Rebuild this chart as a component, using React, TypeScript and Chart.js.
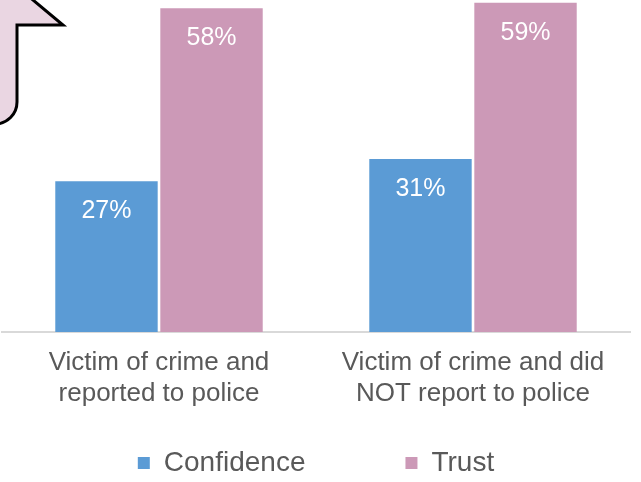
import React, { useEffect, useRef } from 'react';
import { Chart, registerables } from 'chart.js';

Chart.register(...registerables);

const categories: string[][] = [
  ['Victim of crime and', 'reported to police'],
  ['Victim of crime and did', 'NOT report to police'],
];
const seriesNames = ['Confidence', 'Trust'];
const confidenceValues = [27, 31];
const trustValues = [58, 59];
const seriesColors = ['#5B9BD5', '#CC99B7'];

const FONT = "'Liberation Sans', Arial, sans-serif";

const valueLabels = {
  id: 'valueLabels',
  afterDatasetsDraw(chart: any) {
    const ctx = chart.ctx;
    ctx.save();
    ctx.fillStyle = '#FFFFFF';
    ctx.font = `25px ${FONT}`;
    ctx.textAlign = 'center';
    ctx.textBaseline = 'middle';
    chart.data.datasets.forEach((ds: any, i: number) => {
      const meta = chart.getDatasetMeta(i);
      meta.data.forEach((el: any, j: number) => {
        ctx.fillText(`${ds.data[j]}%`, el.x, el.y + 30);
      });
    });
    ctx.restore();
  },
};

// let the x-axis label area extend below its (shortened) layout box so labels are not clipped
const extendAxisLabelArea = {
  id: 'extendAxisLabelArea',
  afterLayout(chart: any) {
    const s = chart.scales.x;
    if (s) {
      s.bottom = s.top + 100;
      s.height = 100;
    }
  },
};

const callout = {
  id: 'callout',
  afterDraw(chart: any) {
    const ctx = chart.ctx;
    ctx.save();
    ctx.beginPath();
    ctx.moveTo(-10, -12);
    ctx.lineTo(18.6, -12);
    ctx.lineTo(63, 25);
    ctx.lineTo(17, 25);
    ctx.lineTo(17, 101);
    ctx.arcTo(17, 124, -6, 124, 22);
    ctx.lineTo(-10, 124);
    ctx.closePath();
    ctx.fillStyle = '#EAD6E2';
    ctx.fill();
    ctx.strokeStyle = '#000000';
    ctx.lineWidth = 3;
    ctx.lineJoin = 'miter';
    ctx.stroke();
    ctx.restore();
  },
};

export default function App() {
  const canvasRef = useRef<HTMLCanvasElement | null>(null);

  useEffect(() => {
    document.body.style.margin = '0';
    const canvas = canvasRef.current;
    if (!canvas) return;
    const chart = new Chart(canvas, {
      type: 'bar',
      data: {
        labels: categories,
        datasets: [
          {
            label: seriesNames[0],
            data: confidenceValues,
            backgroundColor: seriesColors[0],
            borderWidth: 0,
            categoryPercentage: 0.669,
            barPercentage: 0.975,
          },
          {
            label: seriesNames[1],
            data: trustValues,
            backgroundColor: seriesColors[1],
            borderWidth: 0,
            categoryPercentage: 0.669,
            barPercentage: 0.975,
          },
        ],
      },
      options: {
        responsive: false,
        animation: false,
        devicePixelRatio: 1,
        layout: { padding: { left: 2, right: 11, top: 0, bottom: 0 } },
        scales: {
          x: {
            grid: { display: false, drawTicks: false },
            border: { display: true, color: '#D9D9D9', width: 2 },
            ticks: {
              color: '#595959',
              font: { family: FONT, size: 26, lineHeight: 31 / 26 },
              padding: 15.5,
              maxRotation: 0,
              autoSkip: false,
            },
            afterFit(scale: any) {
              scale.height = 17;
            },
          },
          y: {
            display: false,
            min: 0,
            max: 59.5,
          },
        },
        plugins: {
          legend: {
            position: 'bottom',
            align: 'center',
            labels: {
              color: '#595959',
              font: { family: FONT, size: 28 },
              boxWidth: 12,
              boxHeight: 12,
              padding: 100,
            },
          },
          tooltip: { enabled: false },
        },
      },
      plugins: [valueLabels, extendAxisLabelArea, callout],
    });
    return () => chart.destroy();
  }, []);

  return (
    <div style={{ width: 641, height: 482, overflow: 'hidden', position: 'relative', background: '#fff' }}>
      <canvas ref={canvasRef} width={641} height={487} style={{ display: 'block' }} />
    </div>
  );
}
